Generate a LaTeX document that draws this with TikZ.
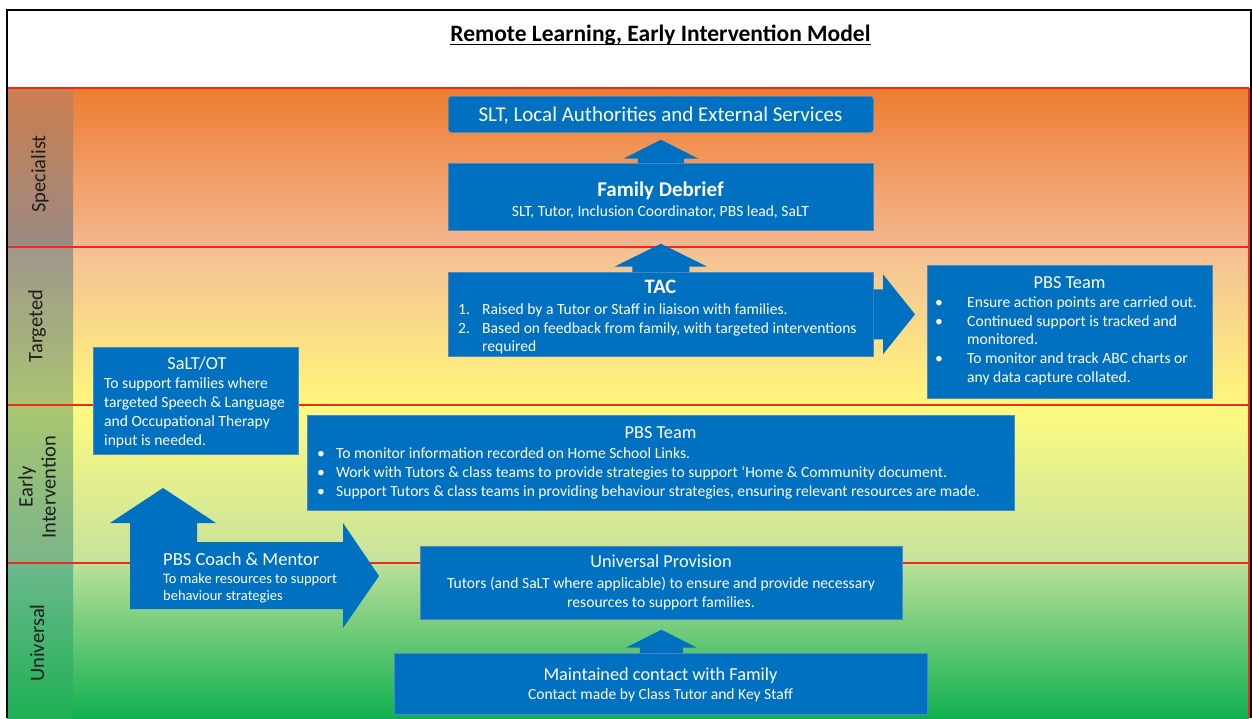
\documentclass[tikz,border=0pt]{standalone}
\usepackage{fontspec}
\setmainfont{Carlito}
\usetikzlibrary{calc}

\definecolor{boxblue}{HTML}{0070C0}
\definecolor{boxedge}{HTML}{4F88C6}
\definecolor{bandline}{HTML}{EE2A1B}
\definecolor{labelink}{HTML}{1E1E1E}
% band shading colours
\definecolor{specTop}{HTML}{ED7D31}
\definecolor{specBot}{HTML}{F4B891}
\definecolor{targTop}{HTML}{F5BF95}
\definecolor{targBot}{HTML}{FFF77C}
\definecolor{earlyTop}{HTML}{FFFB80}
\definecolor{earlyBot}{HTML}{C5E29C}
\definecolor{univTop}{HTML}{BCE19A}
\definecolor{univBot}{HTML}{10B050}
% side column shading colours
\definecolor{cSpecTop}{HTML}{CC7E4E}
\definecolor{cSpecBot}{HTML}{9A8A84}
\definecolor{cTargTop}{HTML}{A0968A}
\definecolor{cTargBot}{HTML}{A9C474}
\definecolor{cEarlyTop}{HTML}{A9C671}
\definecolor{cEarlyBot}{HTML}{7AB58A}
\definecolor{cUnivTop}{HTML}{6BB98C}
\definecolor{cUnivBot}{HTML}{1EB055}

% block arrow pointing up: base, tip, half shaft, half head, head length
\newcommand{\upblock}[5]{%
  \fill[boxblue] let \p1=(#1), \p2=(#2) in
    (\x2-#3pt,\y1) -- (\x2-#3pt,\y2-#5pt) -- (\x2-#4pt,\y2-#5pt) -- (\x2,\y2)
    -- (\x2+#4pt,\y2-#5pt) -- (\x2+#3pt,\y2-#5pt) -- (\x2+#3pt,\y1) -- cycle;}
% block arrow pointing right: base, tip, half shaft, half head, head length
\newcommand{\rightblock}[5]{%
  \fill[boxblue] let \p1=(#1), \p2=(#2) in
    (\x1,\y2+#3pt) -- (\x2-#5pt,\y2+#3pt) -- (\x2-#5pt,\y2+#4pt) -- (\x2,\y2)
    -- (\x2-#5pt,\y2-#4pt) -- (\x2-#5pt,\y2-#3pt) -- (\x1,\y2-#3pt) -- cycle;}

\begin{document}
\begin{tikzpicture}[x=1pt,y=-1pt,
  box/.style={fill=boxblue, draw=boxedge, line width=0.7pt, inner sep=0pt, anchor=north west},
  tx/.style={text=white, inner sep=0pt, anchor=base},
  txl/.style={text=white, inner sep=0pt, anchor=base west},
  body/.style={font=\fontsize{15.6}{18.8}\selectfont},
  head/.style={font=\fontsize{18.3}{22}\selectfont},
  big/.style={font=\fontsize{21}{25}\selectfont},
  bighead/.style={font=\bfseries\fontsize{21}{25}\selectfont},
  side/.style={text=labelink, inner sep=0pt, rotate=90, align=center,
               font=\fontsize{20.5}{23}\selectfont}]

\useasboundingbox (0,0) rectangle (1252,718);
\fill[white] (0,0) rectangle (1252,718);

% ---------- coloured bands ----------
\shade[top color=specTop,  bottom color=specBot]  (7,88)  rectangle (1249,247);
\shade[top color=targTop,  bottom color=targBot]  (7,247) rectangle (1249,405);
\shade[top color=earlyTop, bottom color=earlyBot] (7,405) rectangle (1249,563);
\shade[top color=univTop,  bottom color=univBot]  (7,563) rectangle (1249,718);
% side label column
\shade[top color=cSpecTop,  bottom color=cSpecBot]  (7,88)  rectangle (73,247);
\shade[top color=cTargTop,  bottom color=cTargBot]  (7,247) rectangle (73,405);
\shade[top color=cEarlyTop, bottom color=cEarlyBot] (7,405) rectangle (73,563);
\shade[top color=cUnivTop,  bottom color=cUnivBot]  (7,563) rectangle (73,718);
% band separators, as thin filled strips
\fill[bandline] (7,87.4)  rectangle (1249,88.6);
\fill[bandline] (7,246.4) rectangle (1249,247.6);
\fill[bandline] (7,404.4) rectangle (1249,405.6);
\fill[bandline] (7,562.4) rectangle (1249,563.6);
\fill[bandline] (1248.4,88) rectangle (1249.6,718);
% outer frame
\fill[black] (6.4,10) rectangle (7.6,718);
\fill[black] (6.4,9.4) rectangle (1251.6,10.6);
\fill[black] (1250.4,10) rectangle (1251.6,718);

% ---------- title ----------
\node[inner sep=0pt, anchor=base, font=\bfseries\fontsize{23.5}{28}\selectfont] (title) at (660.5,41) {Remote Learning, Early Intervention Model};
\draw[line width=1.3pt] ([yshift=-3.5pt]title.base west) -- ([yshift=-3.5pt]title.base east);

% ---------- side labels ----------
\node[side] (lspec)  at (40,174) {Specialist};
\node[side] (ltarg)  at (37,326) {Targeted};
\node[side] (learly) at (37,487) {Early\\Intervention};
\node[side] (luniv)  at (37,643) {Universal};

% ---------- boxes ----------
\node[box, rounded corners=3pt, minimum width=425, minimum height=36] (slt) at (448,96) {};
\node[tx, big] at (660.5,121) {SLT, Local Authorities and External Services};

\node[box, minimum width=425, minimum height=67] (fd) at (448,163) {};
\node[tx, bighead] at (660.5,196) {Family Debrief};
\node[tx, body] at (660.5,216) {SLT, Tutor, Inclusion Coordinator, PBS lead, SaLT};

\node[box, minimum width=425, minimum height=84] (tac) at (448,272) {};
\node[tx, font=\bfseries\fontsize{20.5}{25}\selectfont] at (660.5,293) {TAC};
\node[txl, body] at (458,314) {1.};
\node[txl, body] at (482,314) {Raised by a Tutor or Staff in liaison with families.};
\node[txl, body] at (458,333) {2.};
\node[txl, body] at (482,333) {Based on feedback from family, with targeted interventions};
\node[txl, body] at (482,351) {required};

\node[box, minimum width=285, minimum height=133] (pbsR) at (927,265) {};
\node[tx, head] at (1069.5,288) {PBS Team};
\foreach \yy in {307,326,363} \node[txl, body] at (935,\yy) {•};
\node[txl, body] at (967,307) {Ensure action points are carried out.};
\node[txl, body] at (967,326) {Continued support is tracked and};
\node[txl, body] at (967,344) {monitored.};
\node[txl, body] at (967,363) {To monitor and track ABC charts or};
\node[txl, body] at (967,382) {any data capture collated.};

\node[box, minimum width=205, minimum height=107] (salt) at (93,347) {};
\node[tx, head] at (197,369) {SaLT/OT};
\node[txl, body] at (104,388) {To support families where};
\node[txl, body] at (104,407) {targeted Speech \& Language};
\node[txl, body] at (104,426) {and Occupational Therapy};
\node[txl, body] at (104,445) {input is needed.};

\node[box, minimum width=707, minimum height=95] (pbsM) at (307,415) {};
\node[tx, head] at (660.5,438) {PBS Team};
\foreach \yy in {458,477,496} \node[txl, body] at (317,\yy) {•};
\node[txl, body] at (336,458) {To monitor information recorded on Home School Links.};
\node[txl, body] at (336,477) {Work with Tutors \& class teams to provide strategies to support ‘Home \& Community document.};
\node[txl, body] at (336,496) {Support Tutors \& class teams in providing behaviour strategies, ensuring relevant resources are made.};

\node[box, minimum width=482, minimum height=73] (univ) at (420,546) {};
\node[tx, head] at (661,567) {Universal Provision};
\node[tx, body] at (661,588) {Tutors (and SaLT where applicable) to ensure and provide necessary};
\node[tx, body] at (661,607) {resources to support families.};

\node[box, minimum width=533, minimum height=61] (maint) at (394,653) {};
\node[tx, head] at (660.5,680) {Maintained contact with Family};
\node[tx, body] at (660.5,699) {Contact made by Class Tutor and Key Staff};

% ---------- block arrows ----------
\upblock{fd.north}{$(slt.south)+(0,7)$}{23}{37.5}{19}
\upblock{tac.north}{$(fd.south)+(0,13)$}{28.5}{46.5}{23}
\upblock{maint.north}{$(univ.south)+(0,10)$}{21.5}{35.5}{18}
\rightblock{tac.east}{$(tac.east -| pbsR.west)+(-12,0)$}{25}{40}{32}

% bent arrow carrying the coach text
\fill[boxblue] (130,609) -- (130,523) -- (110,523) -- (163,488) -- (216,523)
  -- (197,523) -- (197,542) -- (343,542) -- (343,523) -- (379,576)
  -- (343,628) -- (343,609) -- cycle;
\node[txl, font=\fontsize{18.5}{22}\selectfont] (coach) at (163,565) {PBS Coach \& Mentor};
\node[txl, font=\fontsize{14.5}{17.5}\selectfont] at (163,583) {To make resources to support};
\node[txl, font=\fontsize{14.5}{17.5}\selectfont] at (163,600) {behaviour strategies};

\end{tikzpicture}
\end{document}
